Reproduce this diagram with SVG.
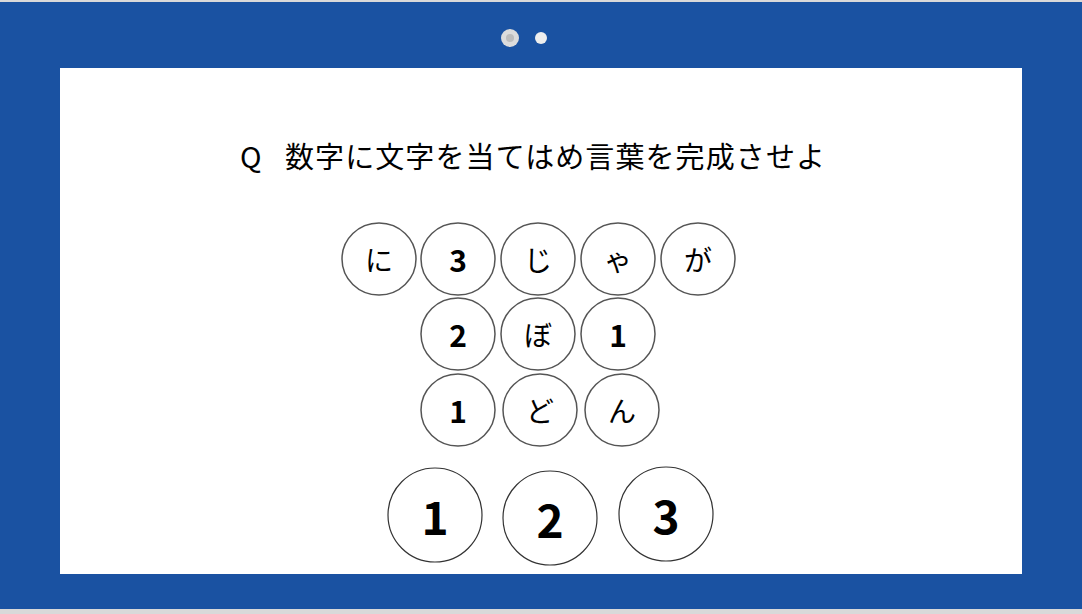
<svg xmlns="http://www.w3.org/2000/svg" width="1082" height="614" viewBox="0 0 1082 614">
<style>
.c{fill:#fff;stroke:#555;stroke-width:1.5}
.b{fill:#fff;stroke:#333;stroke-width:1.2}
.t{font-family:"Noto Sans CJK JP","Noto Sans",sans-serif;font-size:28px;fill:#000;text-anchor:middle;dominant-baseline:central}
.n{font-family:"Noto Sans CJK JP","Noto Sans",sans-serif;font-size:30px;font-weight:bold;fill:#000;text-anchor:middle;dominant-baseline:central}
.bn{font-family:"Noto Sans CJK JP","Noto Sans",sans-serif;font-size:46px;font-weight:bold;fill:#000;text-anchor:middle;dominant-baseline:central}
.q{font-family:"Noto Sans CJK JP",sans-serif;font-size:29px;fill:#000;dominant-baseline:central}
</style>
<rect x="0" y="0" width="1082" height="614" fill="#d9d9d9"/>
<rect x="0" y="2" width="1082" height="607" fill="#1a52a2"/>
<rect x="60" y="68" width="962" height="506" fill="#fff"/>
<g id="dots">
<circle cx="510" cy="38" r="9" fill="#dcdcdc"/>
<circle cx="510" cy="38" r="4" fill="#bdbdbd"/>
<circle cx="541" cy="38" r="6" fill="#eeeeee"/>
</g>
<g id="title">
<text class="q" x="240" y="155">Q</text>
<text class="q" x="285" y="155" textLength="540">数字に文字を当てはめ言葉を完成させよ</text>
</g>
<g id="connectors"></g>
<g id="r1c1"><ellipse class="c" cx="379" cy="259" rx="37" ry="36"/><text class="t" x="379" y="259">に</text></g>
<g id="r1c2"><ellipse class="c" cx="458" cy="259" rx="37" ry="36"/><text class="n" x="458" y="259">3</text></g>
<g id="r1c3"><ellipse class="c" cx="538" cy="259" rx="37" ry="36"/><text class="t" x="538" y="259">じ</text></g>
<g id="r1c4"><ellipse class="c" cx="618" cy="259" rx="37" ry="36"/><text class="t" x="618" y="259">ゃ</text></g>
<g id="r1c5"><ellipse class="c" cx="698" cy="259" rx="37" ry="36"/><text class="t" x="698" y="259">が</text></g>
<g id="r2c1"><ellipse class="c" cx="458" cy="334" rx="37" ry="36"/><text class="n" x="458" y="334">2</text></g>
<g id="r2c2"><ellipse class="c" cx="538" cy="334" rx="37" ry="36"/><text class="t" x="538" y="334">ぼ</text></g>
<g id="r2c3"><ellipse class="c" cx="618" cy="334" rx="37" ry="36"/><text class="n" x="618" y="334">1</text></g>
<g id="r3c1"><ellipse class="c" cx="458" cy="410" rx="37" ry="36"/><text class="n" x="458" y="410">1</text></g>
<g id="r3c2"><ellipse class="c" cx="540" cy="410" rx="37" ry="36"/><text class="t" x="540" y="410">ど</text></g>
<g id="r3c3"><ellipse class="c" cx="622" cy="410" rx="37" ry="36"/><text class="t" x="622" y="410">ん</text></g>
<g id="b1"><circle class="b" cx="435" cy="515" r="47"/><text class="bn" x="435" y="515">1</text></g>
<g id="b2"><circle class="b" cx="550" cy="518" r="47"/><text class="bn" x="550" y="518">2</text></g>
<g id="b3"><circle class="b" cx="666" cy="514" r="47"/><text class="bn" x="666" y="514">3</text></g>
</svg>
